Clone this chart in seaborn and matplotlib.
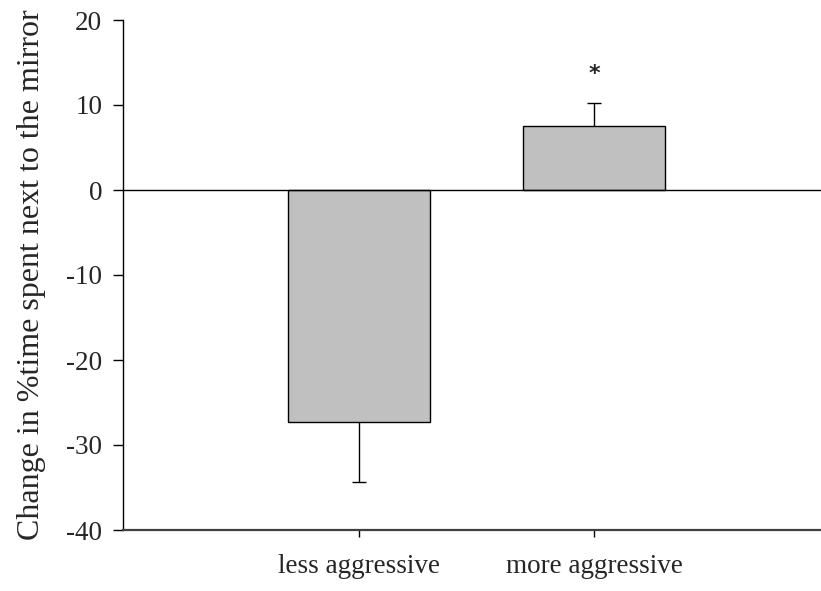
import matplotlib
matplotlib.use("Agg")
import matplotlib.pyplot as plt
import seaborn as sns
import pandas as pd

groups = ["less aggressive", "more aggressive"]
means = [-27.3, 7.5]
sem = [7.1, 2.7]
signif = ["", "*"]

sns.set_theme(style="ticks")
plt.rcParams["font.family"] = ["Liberation Serif", "DejaVu Serif"]
plt.rcParams["axes.unicode_minus"] = False

df = pd.DataFrame({"group": groups, "mean": means})

fig = plt.figure(figsize=(8.21, 5.91), dpi=100)
ax = fig.add_axes([123 / 821, 1 - 530 / 591, 1 - 123 / 821, 510 / 591])

sns.barplot(data=df, x="group", y="mean", color="#c0c0c0", edgecolor="black",
            linewidth=1.0, width=0.604, errorbar=None, saturation=1, ax=ax)

# one-sided error bars pointing away from zero, capped only at the far end
cap_half = 0.03
for i, (m, s) in enumerate(zip(means, sem)):
    tip = m - s if m < 0 else m + s
    ax.vlines(i, m, tip, color="black", lw=1.0, zorder=4)
    ax.hlines(tip, i - cap_half, i + cap_half, color="black", lw=1.0, zorder=4)

for i, (m, s, lab) in enumerate(zip(means, sem, signif)):
    if lab:
        ax.text(i, m + s + 3.4, lab, ha="center", va="center", fontsize=16,
                family="DejaVu Sans", fontweight="bold")

ax.axhline(0, color="black", lw=1.0, zorder=3)

ax.set_ylim(-40, 20)
ax.set_xlim(-1.004, 1.966)
ax.set_yticks([-40, -30, -20, -10, 0, 10, 20])
ax.set_xlabel("")
ax.set_ylabel("Change in %time spent next to the mirror", fontsize=23)
ax.yaxis.set_label_coords(-0.111, 0.5)

ax.tick_params(axis="y", labelsize=19.5, length=7, width=1, color="black", direction="out", pad=8)
ax.tick_params(axis="x", labelsize=19.5, length=5, width=1, color="black", direction="out", pad=12)

sns.despine(ax=ax, top=True, right=True)
ax.spines["left"].set_color("black")
ax.spines["left"].set_linewidth(1.0)
ax.spines["bottom"].set_color("#404040")
ax.spines["bottom"].set_linewidth(1.6)

fig.savefig("out.png", dpi=100)
